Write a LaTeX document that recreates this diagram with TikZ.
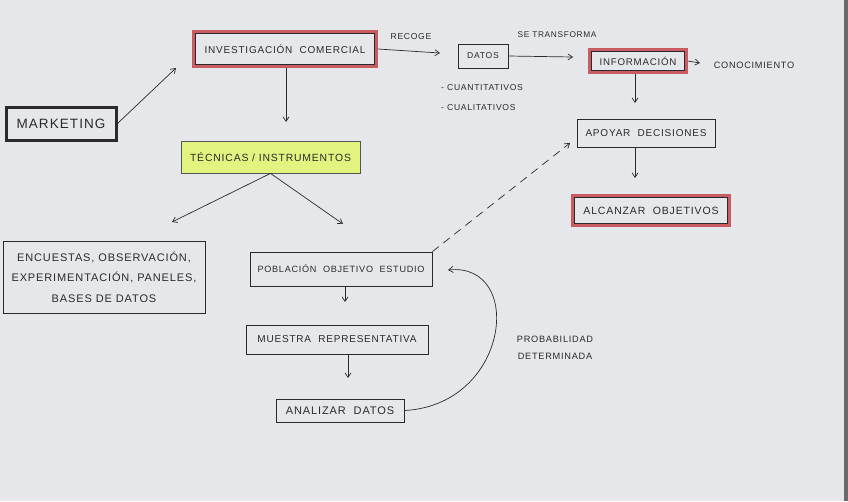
\documentclass[tikz,border=0pt]{standalone}
\usepackage{fontspec}
\setmainfont[LetterSpace=8]{Liberation Sans}
\usetikzlibrary{arrows.meta}
\definecolor{paper}{HTML}{E6E7EB}
\definecolor{myred}{HTML}{C95C60}
\definecolor{lime}{HTML}{E2F37F}
\definecolor{ink}{HTML}{2A2A2E}
\newcommand{\fs}[1]{\fontsize{#1}{#1}\selectfont}
\tikzset{
  box/.style={draw=ink, line width=0.8pt, inner sep=0pt, text=ink, font=\fs{10}, align=center},
  redbox/.style={box, draw=myred, line width=3.6pt, outer sep=0pt},
  lbl/.style={text=ink, font=\fs{8.6}, inner sep=0pt},
  arr/.style={draw=ink, line width=0.7pt, -{Straight Barb[length=4.5pt,width=6pt]}},
  inner/.style={draw=ink, line width=0.7pt},
}
\begin{document}
\begin{tikzpicture}[x=1pt,y=-1pt]
\fill[paper] (0,0) rectangle (848,501);
\useasboundingbox (0,0) rectangle (848,501);
\fill[ink!70] (844,0) rectangle (848,501);

\node[box, line width=3pt, minimum width=110pt, minimum height=33pt, font=\fs{13.5}] (mk) at (61,123.5) {MARKETING};
\node[redbox, minimum width=182pt, minimum height=34pt] (inv) at (285,49) {INVESTIGACIÓN\ \ COMERCIAL};
\node[box, minimum width=50pt, minimum height=24pt, font=\fs{8.6}] (datos) at (483,56) {DATOS};
\node[redbox, minimum width=96pt, minimum height=22pt, font=\fs{9.7}] (info) at (638,61) {INFORMACIÓN};
\node[lbl, font=\fs{9.2}] (con) at (754,65) {CONOCIMIENTO};
\node[box, minimum width=138pt, minimum height=28pt] (apoyar) at (646,133) {APOYAR\ \ DECISIONES};
\node[redbox, minimum width=156pt, minimum height=29pt, font=\fs{10.5}] (alc) at (651,210.5) {ALCANZAR\ \ OBJETIVOS};
\node[box, fill=lime, draw=ink!80, minimum width=179pt, minimum height=32pt, font=\fs{10.4}] (tec) at (270.5,157) {TÉCNICAS\ /\ INSTRUMENTOS};
\node[box, minimum width=202pt, minimum height=72pt, font=\fontsize{11}{20.5}\selectfont] (enc) at (104,277) {ENCUESTAS,\ OBSERVACIÓN,\\EXPERIMENTACIÓN,\ PANELES,\\BASES\ DE\ DATOS};
\node[box, minimum width=182pt, minimum height=34pt, font=\fs{9.1}] (pob) at (341,269) {POBLACIÓN\ \ OBJETIVO\ \ ESTUDIO};
\node[box, minimum width=182pt, minimum height=29pt] (mue) at (337,339.5) {MUESTRA\ \ REPRESENTATIVA};
\node[box, minimum width=128pt, minimum height=23pt, font=\fs{11}] (ana) at (340,410.5) {ANALIZAR\ \ DATOS};

\foreach \n in {inv,info,alc}
  \draw[inner] ([xshift=1.6pt,yshift=-1.6pt]\n.north west) rectangle ([xshift=-1.6pt,yshift=1.6pt]\n.south east);

\node[lbl] (recoge) at (411,37) {RECOGE};
\node[lbl, font=\fs{8.3}] (setr) at (557,35) {SE\ TRANSFORMA};
\node[lbl, anchor=west] (cuan) at (441,88) {-\ CUANTITATIVOS};
\node[lbl, anchor=west] (cual) at (441,108) {-\ CUALITATIVOS};
\node[lbl, align=center, font=\fontsize{9.2}{17}\selectfont] (prob) at (555,348) {PROBABILIDAD\\DETERMINADA};

\coordinate (mkend) at (176,68);
\coordinate (invdown) at (286,122);
\coordinate (datin) at (440,53);
\coordinate (infoin) at (573,57);
\coordinate (conin) at (700,63);
\coordinate (apin) at (635,103);
\coordinate (alcin) at (635,178);
\coordinate (encin) at (172,222);
\coordinate (pobin) at (343,224);
\coordinate (muein) at (345,302);
\coordinate (anain) at (348,378);
\coordinate (dashend) at (570,143);
\coordinate (curveend) at (448,270);

\draw[arr] (mk.east) -- (mkend);
\draw[arr] ([yshift=-1.8pt]inv.south -| invdown) -- (invdown);
\draw[arr] ([xshift=1.8pt]inv.east) -- (datin);
\draw[arr] (datos.east) -- (infoin);
\draw[arr] ([xshift=1.8pt]info.east) -- (conin);
\draw[arr] ([yshift=-1.8pt]info.south -| apin) -- (apin);
\draw[arr] (apoyar.south -| alcin) -- (alcin);
\draw[arr] (tec.south) -- (encin);
\draw[arr] (tec.south) -- (pobin);
\draw[arr] (pob.south -| muein) -- (muein);
\draw[arr] (mue.south -| anain) -- (anain);
\draw[arr, dash pattern=on 8pt off 6pt] (pob.north east) -- (dashend);
\draw[arr] (ana.east) .. controls (510,405) and (525,262) .. (curveend);
\end{tikzpicture}
\end{document}
